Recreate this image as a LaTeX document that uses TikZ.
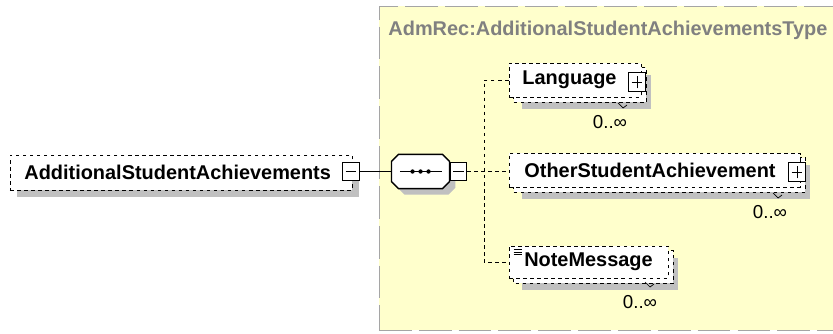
\documentclass[tikz,border=0pt]{standalone}
\usepackage{fontspec}
\setmainfont{Liberation Sans}
\usetikzlibrary{positioning,backgrounds}
\definecolor{TypeYellow}{RGB}{255,255,204}
\definecolor{TypeBorder}{RGB}{165,165,165}
\definecolor{TypeGray}{RGB}{128,128,128}
\definecolor{ShadowGray}{RGB}{192,192,192}
\newcommand{\seqoutline}{([xshift=0.21cm]seq.north west) -- ([xshift=-0.21cm]seq.north east) -- ([yshift=-0.21cm]seq.north east) -- ([yshift=0.21cm]seq.south east) -- ([xshift=-0.21cm]seq.south east) -- ([xshift=0.21cm]seq.south west) -- ([yshift=0.21cm]seq.south west) -- ([yshift=-0.21cm]seq.north west) -- cycle}

\begin{document}
\begin{tikzpicture}[x=0.03cm, y=-0.03cm, line width=0.8pt, font=\fontsize{17}{20}\selectfont\bfseries, every node/.style={align=center}]
\tikzset{
  typebox/.style={fill=TypeYellow, draw=TypeBorder, dash pattern=on 28pt off 6pt, minimum width=13.95cm, minimum height=9.72cm, inner sep=0pt},
  elbox/.style={draw, dashed, fill=white, inner sep=0pt},
  backbox/.style={draw, dashed, fill=white},
  shadowfill/.style={fill=ShadowGray},
  pmbox/.style={draw, solid, fill=white, minimum width=0.5cm, minimum height=0.56cm, inner sep=0pt},
  minusbox/.style={pmbox, path picture={
    \draw ([xshift=2.5pt]path picture bounding box.west) -- ([xshift=-2.5pt]path picture bounding box.east);}},
  plusbox/.style={pmbox, path picture={
    \draw ([xshift=2.5pt]path picture bounding box.west) -- ([xshift=-2.5pt]path picture bounding box.east);
    \draw ([yshift=2.5pt]path picture bounding box.south) -- ([yshift=-2.5pt]path picture bounding box.north);}},
  seqbox/.style={minimum width=1.71cm, minimum height=1.0cm, inner sep=0pt},
  seqline/.style={draw, line width=1.1pt, fill=white},
  conn/.style={dashed},
  card/.style={font=\fontsize{16}{19}\selectfont\mdseries, inner sep=0pt},
  tick/.style={line width=0.6pt}
}
  \useasboundingbox (0,0) rectangle (833,333);
  \node[anchor=west, inner sep=0pt, text=TypeGray] (title) at (388,30) {AdmRec:AdditionalStudentAchievementsType};

  \node[elbox, minimum width=10.26cm, minimum height=1.05cm] (root) at (181,172.5) {AdditionalStudentAchievements\hspace{0.2cm}};
  \node[minusbox] (rootm) at (351,171.5) {};

  \node[seqbox] (seq) at (420.5,171.5) {};
  \path[seqline] \seqoutline;
  \node[minusbox] (seqm) at (458.5,171.5) {};
  \draw ([xshift=-0.62cm]seq.center) -- ([xshift=0.64cm]seq.center);
  \foreach \dx in {-8,0,8}
    \fill ([xshift=\dx*0.03cm]seq.center) circle (0.065cm);

  \node[elbox, minimum width=3.96cm, minimum height=1.02cm] (lang) at (575,80) {Language\hspace{0.33cm}};
  \node[plusbox] (langp) at (637,82) {};
  \node[elbox, minimum width=8.73cm, minimum height=1.02cm] (other) at (654.5,170) {OtherStudentAchievement\hspace{0.27cm}};
  \node[plusbox] (otherp) at (797,172) {};
  \node[elbox, minimum width=4.77cm, minimum height=0.96cm] (note) at (588.5,262) {NoteMessage};
  \foreach \dy in {0,2.5,5}
    \draw[line width=0.6pt] ([shift={(5,4+\dy)}]note.north west) -- ++(8,0);

  \node[card] (langc) at (610,122) {0..∞};
  \node[card] (otherc) at (770,212) {0..∞};
  \node[card] (notec) at (640,302) {0..∞};
  \draw[tick] ([shift={(8,-19)}]langc.center) -- ++(5,5) -- ++(4,-3);
  \draw[tick] ([shift={(3,-19)}]otherc.center) -- ++(5,5) -- ++(4,-3);
  \draw[tick] ([shift={(5,-20)}]notec.center) -- ++(5,5) -- ++(4,-3);

  \coordinate (trunk) at (484,171.5);
  \draw (rootm.east) -- (seq.west);
  \draw[conn] (seqm.east) -- (seqm.east -| other.west);
  \draw[conn] (lang.west) -| (trunk) |- (note.west);

  \begin{scope}[on background layer]
    \node[typebox] (type) at (611.5,168) {};
    \fill[shadowfill] ([shift={(7,7)}]root.north west) rectangle ([shift={(7,7)}]root.south east);
    \begin{scope}[transform canvas={shift={(6,6)}}]
      \fill[shadowfill] \seqoutline;
    \end{scope}
    \foreach \n in {lang,other,note} {
      \fill[shadowfill] ([shift={(13,12)}]\n.north west) rectangle ([shift={(10,12)}]\n.south east);
      \draw[backbox] ([shift={(5,5)}]\n.north west) rectangle ([shift={(5,5)}]\n.south east);
    }
  \end{scope}
\end{tikzpicture}
\end{document}
